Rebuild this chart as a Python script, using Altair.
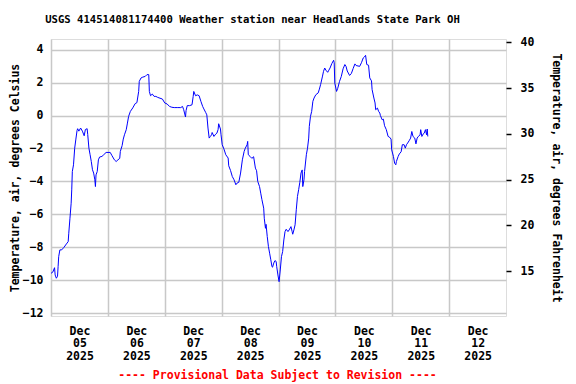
import altair as alt
import pandas as pd

# hours since 2025-12-05 00:00 (local), temperature in deg C
hours = [0, 0.75, 1.5, 1.75, 2.25, 2.75, 3.0, 3.25, 3.75, 4.5, 5.5, 6.5, 7.25, 7.5, 8.0, 8.5, 8.75, 9.0, 9.5, 10.0,
         10.5, 11.0, 11.25, 11.75, 12.5, 13.25, 14.0, 14.5, 15.25, 15.5, 16.0, 16.5, 17.0, 17.5, 18.0, 18.5, 18.75,
         19.0, 19.5, 20.0, 20.5, 21.5, 22.25, 23.25, 25.0, 25.75, 26.75, 27.5, 28.25, 29.0, 29.25, 30.0, 30.5, 31.0,
         31.75, 32.25, 32.75, 33.5, 34.5, 35.5, 36.25, 37.0, 37.25, 38.0, 38.75, 39.75, 40.5, 41.25, 41.5, 42.0,
         42.75, 43.5, 44.25, 45.0, 46.0, 47.0, 48.0, 49.0, 50.0, 51.0, 52.0, 53.25, 54.75, 55.5, 56.0, 56.75, 57.0,
         57.5, 58.5, 59.5, 60.0, 60.25, 61.0, 61.75, 62.5, 63.25, 64.0, 64.5, 65.25, 65.75, 66.25, 66.75, 67.25,
         67.75, 68.0, 68.75, 69.5, 70.0, 70.5, 70.75, 71.5, 71.75, 72.25, 73.0, 73.75, 74.75, 75.0, 75.75, 76.5,
         77.25, 78.0, 78.5, 79.25, 80.0, 80.75, 81.5, 82.0, 82.75, 83.0, 83.25, 84.0, 84.75, 85.5, 86.25, 86.75,
         87.25, 88.0, 88.5, 89.0, 89.75, 90.0, 90.5, 90.75, 91.25, 91.75, 92.25, 92.75, 93.25, 93.5, 94.0, 94.5,
         95.0, 95.25, 95.75, 96.25, 96.75, 97.25, 97.75, 98.25, 98.75, 99.25, 100.0, 100.5, 101.25, 101.75, 102.0,
         102.5, 103.0, 103.5, 104.0, 104.5, 105.0, 105.5, 106.0, 106.25, 106.75, 107.0, 107.75, 108.25, 108.75,
         109.0, 109.5, 110.0, 110.5, 111.0, 111.75, 112.75, 113.25, 113.75, 114.5, 115.0, 115.5, 116.0, 116.75,
         117.25, 117.75, 118.5, 119.25, 119.5, 119.75, 120.5, 121.0, 121.75, 122.5, 123.25, 124.0, 124.5, 125.0,
         126.0, 126.75, 127.5, 128.25, 128.75, 130.25, 131.0, 131.75, 132.25, 132.75, 133.25, 134.0, 134.5, 135.25,
         135.5, 136.25, 136.75, 137.0, 137.75, 138.25, 138.75, 139.0, 139.75, 140.25, 140.75, 141.5, 142.25, 142.75,
         143.5, 143.75, 144.5, 145.0, 145.5, 145.75, 146.5, 147.0, 147.75, 148.25, 149.0, 149.5, 150.0, 150.5,
         151.25, 151.75, 152.25, 152.75, 153.5, 154.0, 154.5, 155.0, 155.75, 156.0, 156.5, 157.0, 157.5, 158.0,
         158.5, 158.75, 159.0]
temp_c = [-9.57, -9.5, -9.23, -9.67, -9.87, -9.75, -9.17, -8.56, -8.15, -8.15, -7.99, -7.79, -7.65, -7.14, -6.23,
          -5.32, -4.51, -3.4, -2.99, -1.98, -1.43, -0.9, -0.8, -0.95, -0.76, -0.95, -1.23, -0.85, -0.8, -1.15, -1.98,
          -2.38, -2.79, -3.29, -3.49, -3.9, -4.31, -3.6, -3.4, -2.69, -2.52, -2.48, -2.38, -2.24, -2.24, -2.44, -2.69,
          -2.79, -2.69, -2.6, -2.18, -1.83, -1.43, -1.17, -0.86, -0.46, -0.05, 0.25, 0.46, 0.72, 0.78, 1.46, 2.07,
          2.28, 2.33, 2.37, 2.48, 2.48, 1.46, 1.2, 1.3, 1.16, 1.16, 1.1, 1.05, 1.0, 0.76, 0.7, 0.55, 0.5, 0.48, 0.48,
          0.48, 0.55, 0.35, -0.09, 0.3, 0.6, 0.6, 0.65, 1.16, 1.46, 1.2, 1.25, 1.2, 0.86, 0.55, 0.4, 0.19, 0.04,
          -0.76, -1.37, -1.27, -1.17, -1.03, -1.27, -1.13, -1.07, -0.86, -0.5, -0.82, -1.17, -1.77, -2.04, -2.38,
          -2.58, -3.05, -3.33, -3.7, -3.9, -4.2, -4.1, -4.05, -3.49, -2.69, -2.18, -1.98, -1.77, -1.57, -2.38, -2.48,
          -2.6, -2.5, -3.19, -3.35, -4.0, -4.31, -4.71, -5.1, -5.62, -6.23, -6.84, -6.6, -7.34, -7.95, -8.35, -8.75,
          -9.17, -9.2, -8.95, -8.8, -8.85, -9.17, -9.67, -10.08, -9.37, -8.56, -8.25, -7.55, -7.04, -6.9, -7.04,
          -6.94, -6.74, -7.04, -7.2, -6.94, -6.63, -5.72, -4.91, -4.5, -4.05, -3.49, -3.3, -4.31, -3.9, -3.4, -2.38,
          -1.98, -1.37, -0.66, -0.05, 0.25, 0.86, 1.06, 1.26, 1.37, 1.6, 1.87, 2.34, 2.68, 2.88, 2.75, 2.62, 2.75,
          2.88, 3.15, 3.35, 3.2, 1.97, 1.46, 1.65, 2.07, 2.37, 2.83, 3.09, 2.98, 2.7, 2.43, 2.55, 2.85, 3.13, 3.03,
          2.98, 3.2, 3.49, 3.55, 3.65, 3.09, 3.05, 2.28, 2.1, 1.57, 1.06, 0.76, 0.35, 0.45, 0.25, 0.15, 0.0, -0.26,
          -0.22, -0.62, -0.86, -1.27, -1.3, -1.43, -2.08, -2.48, -2.89, -2.99, -2.79, -2.48, -2.33, -2.2, -1.77,
          -1.77, -1.98, -1.77, -1.67, -1.5, -1.37, -0.97, -1.27, -1.37, -1.72, -1.37, -1.27, -1.17, -0.86, -1.27,
          -1.13, -1.07, -0.86, -1.17, -0.82, -1.27]

c_ticks = [-12, -10, -8, -6, -4, -2, 0, 2, 4]
f_ticks = [15, 20, 25, 30, 35, 40]
day_ticks = [5, 6, 7, 8, 9, 10, 11, 12]

title_text = "USGS 414514081174400 Weather station near Headlands State Park OH"
footer_text = "---- Provisional Data Subject to Revision ----"

df = pd.DataFrame({
    "time": pd.Timestamp("2025-12-05") + pd.to_timedelta(hours, unit="h"),
    "tc": temp_c,
})
df["tf"] = df["tc"] * 1.8 + 32

FONT = "DejaVu Sans Mono"
c_dom = [-12.16, 4.64]
f_dom = [c_dom[0] * 1.8 + 32, c_dom[1] * 1.8 + 32]

x_enc = alt.X(
    "time:T",
    scale=alt.Scale(domain=[alt.DateTime(year=2025, month=12, date=5),
                            alt.DateTime(year=2025, month=12, date=13)], nice=False),
    axis=alt.Axis(
        values=[alt.DateTime(year=2025, month=12, date=d) for d in day_ticks],
        labelExpr="[timeFormat(datum.value, '%b'), timeFormat(datum.value, '%d'), timeFormat(datum.value, '%Y')]",
        labelOffset=28.5, labelOverlap=False, labelFlush=False, labelBound=False,
        ticks=False, domain=False, grid=True, gridColor="#c8c8c8", gridWidth=1.5,
        labelFont=FONT, labelFontSize=11.5, labelFontWeight="bold", labelColor="black",
        labelLineHeight=12.8, labelPadding=9, labelAngle=0, labelAlign="center", labelBaseline="top",
        title=None,
    ),
)

line_c = alt.Chart(df).mark_line(color="#0000ff", strokeWidth=1, interpolate="linear").encode(
    x=x_enc,
    y=alt.Y("tc:Q", scale=alt.Scale(domain=c_dom, nice=False, zero=False),
            axis=alt.Axis(values=c_ticks, orient="left", grid=True, gridColor="#c8c8c8", gridWidth=1.5,
                          ticks=False, domain=False, labelPadding=8,
                          labelFont=FONT, labelFontSize=11.5, labelFontWeight="bold", labelColor="black",
                          title="Temperature, air, degrees Celsius", titleFont=FONT, titleFontSize=11.5,
                          titleFontWeight="bold", titleColor="black", titlePadding=2)),
)

line_f = alt.Chart(df).mark_line(opacity=0).encode(
    x=alt.X("time:T"),
    y=alt.Y("tf:Q", scale=alt.Scale(domain=f_dom, nice=False, zero=False),
            axis=alt.Axis(values=f_ticks, orient="right", grid=False, ticks=True, tickSize=5,
                          tickColor="black", tickWidth=1.5, domain=False, labelPadding=9,
                          labelFont=FONT, labelFontSize=11.5, labelFontWeight="bold", labelColor="black",
                          title="Temperature, air, degrees Fahrenheit", titleFont=FONT, titleFontSize=11.5,
                          titleFontWeight="bold", titleColor="black", titlePadding=17)),
)

footer = alt.Chart(pd.DataFrame({"t": [footer_text]})).mark_text(
    font=FONT, fontSize=11.5, fontWeight="bold", color="#ff0000", align="center", baseline="middle"
).encode(text="t:N", x=alt.value(226.5), y=alt.value(336.5))

chart = alt.layer(line_c, line_f, footer).resolve_scale(y="independent").properties(
    width=455, height=277,
    title=alt.Title(title_text, font=FONT, fontSize=10.6, fontWeight="bold", color="black",
                    anchor="middle", dx=-26, offset=11),
    autosize=alt.AutoSizeParams(type="none"),
    padding={"left": 43, "top": 31, "right": 62, "bottom": 68},
).configure_view(stroke="black", strokeWidth=1.5).configure(background="white")

chart.save("out.html", embed_options={"renderer": "svg", "actions": False})
